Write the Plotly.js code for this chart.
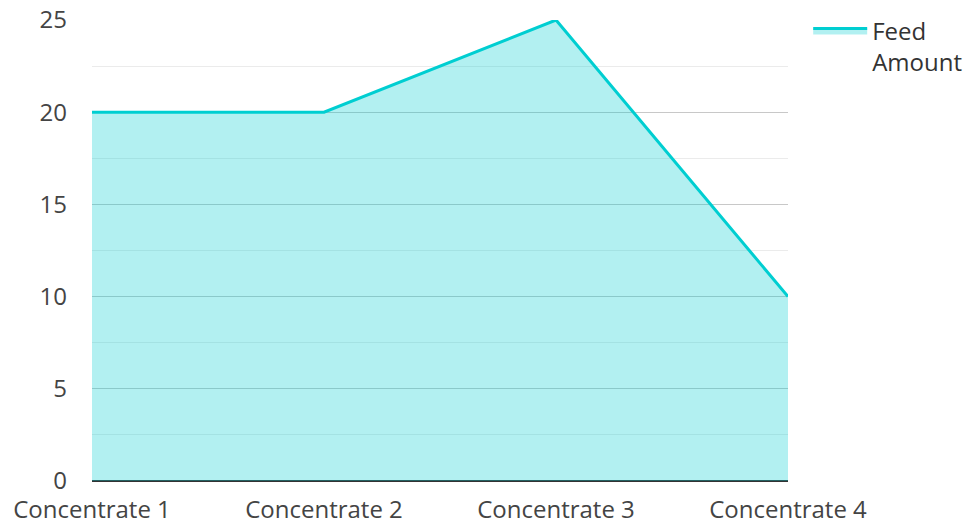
<!DOCTYPE html>
<html>
<head>
<meta charset="utf-8">
<script src="https://cdn.plot.ly/plotly-3.0.1.min.js"></script>
<style>html,body{margin:0;padding:0;background:#fff;}#chart{width:968px;height:524px;}</style>
</head>
<body>
<div id="chart"></div>
<script>
const categories = ["Concentrate 1", "Concentrate 2", "Concentrate 3", "Concentrate 4"];
const feedAmount = [20, 20, 25, 10];
const seriesName = "Feed<br>Amount";

const trace = {
  x: categories,
  y: feedAmount,
  type: "scatter",
  mode: "lines",
  name: seriesName,
  fill: "tozeroy",
  fillcolor: "rgba(0,206,209,0.3)",
  line: {color: "#00CED1", width: 3}
};

const layout = {
  width: 968,
  height: 524,
  margin: {l: 92, r: 180, t: 20, b: 43, autoexpand: false},
  paper_bgcolor: "#fff",
  plot_bgcolor: "#fff",
  font: {family: "Open Sans, Noto Sans, sans-serif", size: 24, color: "#444"},
  showlegend: true,
  legend: {x: 1.029, xanchor: "left", y: 1.025, yanchor: "top", valign: "top", itemwidth: 54, font: {size: 24, color: "#333"}},
  xaxis: {
    type: "category",
    range: [0, 3],
    automargin: false,
    showgrid: false,
    showline: false,
    zeroline: false,
    ticks: "",
    ticklabelstandoff: 12,
    tickfont: {size: 24, color: "#444"}
  },
  yaxis: {
    range: [0, 25],
    automargin: false,
    dtick: 5,
    tick0: 0,
    showgrid: true,
    gridcolor: "#c8c8c8",
    gridwidth: 1,
    zeroline: true,
    zerolinecolor: "#333",
    zerolinewidth: 2,
    ticks: "",
    ticklen: 0,
    ticklabelstandoff: 24,
    tickfont: {size: 24, color: "#444"},
    minor: {dtick: 2.5, showgrid: true, gridcolor: "#ebebeb", gridwidth: 1}
  }
};

Plotly.newPlot("chart", [trace], layout, {displayModeBar: false, staticPlot: true});
</script>
</body>
</html>
